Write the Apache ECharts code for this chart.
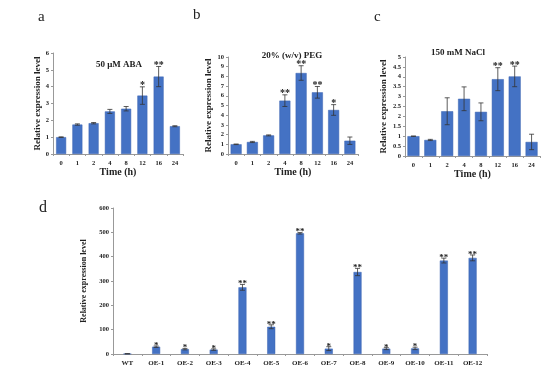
<!DOCTYPE html>
<html><head><meta charset="utf-8">
<script src="https://cdn.jsdelivr.net/npm/echarts@6/dist/echarts.min.js"></script>
<style>html,body{margin:0;padding:0;background:#fff}#c{width:550px;height:373px}</style>
</head><body><div id="c"></div>
<script>
// ---- data ----
const timeCats = ['0','1','2','4','8','12','16','24'];
const abaVals = [1.0, 1.75, 1.83, 2.53, 2.69, 3.47, 4.6, 1.65];
const abaErr  = [0.02, 0.04, 0.04, 0.12, 0.13, 0.52, 0.6, 0.03];
const abaSig  = ['', '', '', '', '', '*', '**', ''];
const pegVals = [1.0, 1.24, 1.92, 5.5, 8.35, 6.36, 4.54, 1.37];
const pegErr  = [0.03, 0.06, 0.05, 0.6, 0.75, 0.6, 0.55, 0.38];
const pegSig  = ['', '', '', '**', '**', '**', '*', ''];
const naclVals = [1.0, 0.81, 2.26, 2.89, 2.23, 3.88, 4.02, 0.71];
const naclErr  = [0.01, 0.03, 0.68, 0.6, 0.45, 0.58, 0.52, 0.39];
const naclSig  = ['', '', '', '', '', '**', '**', ''];
const lineCats = ['WT','OE-1','OE-2','OE-3','OE-4','OE-5','OE-6','OE-7','OE-8','OE-9','OE-10','OE-11','OE-12'];
const lineVals = [1, 30, 20, 18, 274, 112, 496, 22, 337, 22, 23, 384, 395];
const lineErr  = [0.5, 3, 3, 3, 12, 8, 3, 8, 15, 4, 5, 10, 12];
const lineSig  = ['', '*', '*', '*', '**', '**', '**', '*', '**', '*', '*', '**', '**'];

const BLUE = '#4472C4';
const FONT = '"Liberation Serif", "Times New Roman", serif';

function errSeries(idx, vals, errs, sigs, fs) {
  return {
    type: 'custom', xAxisIndex: idx, yAxisIndex: idx, z: 5,
    data: vals.map((v, i) => [i, v, errs[i]]),
    renderItem: function (params, api) {
      const i = api.value(0), v = api.value(1), e = api.value(2);
      const sig = sigs[i];
      const top = api.coord([i, v + e]);
      const bot = api.coord([i, v - e]);
      const w = 2.5;
      const children = [
        {type: 'line', shape: {x1: top[0], y1: top[1], x2: bot[0], y2: bot[1]}, style: {stroke: '#333', lineWidth: 0.8}},
        {type: 'line', shape: {x1: top[0]-w, y1: top[1], x2: top[0]+w, y2: top[1]}, style: {stroke: '#333', lineWidth: 0.8}},
        {type: 'line', shape: {x1: bot[0]-w, y1: bot[1], x2: bot[0]+w, y2: bot[1]}, style: {stroke: '#333', lineWidth: 0.8}}
      ];
      if (sig) {
        children.push({type: 'text', style: {text: sig, x: top[0], y: top[1] + 4, textAlign: 'center', textVerticalAlign: 'bottom', fill: '#222', font: 'bold ' + fs + 'px ' + FONT}});
      }
      return {type: 'group', children: children};
    }
  };
}

const grids = [
  {left: 53, top: 53, width: 130, height: 101},
  {left: 228, top: 57, width: 130, height: 97},
  {left: 405, top: 57, width: 135, height: 99},
  {left: 113, top: 208, width: 374, height: 146}
];
const axisLine = {lineStyle: {color: '#999', width: 1}};
const tickLab = {fontFamily: FONT, fontWeight: 'bold', fontSize: 6.5, color: '#222'};

function xAx(i, cats, name, fs) {
  return {type: 'category', gridIndex: i, data: cats, axisLine: axisLine,
    axisTick: {show: true, length: 2, lineStyle: {color: '#999'}},
    axisLabel: Object.assign({}, tickLab, {margin: 6, fontSize: fs || 6.5}),
    name: name, nameLocation: 'middle', nameGap: 13,
    nameTextStyle: {fontFamily: FONT, fontWeight: 'bold', fontSize: 10, color: '#222'}};
}
function yAx(i, max, interval, gap, nfs) {
  return {type: 'value', gridIndex: i, min: 0, max: max, interval: interval,
    axisLine: Object.assign({show: true}, axisLine),
    axisTick: {show: true, length: 2, lineStyle: {color: '#999'}},
    splitLine: {show: false},
    axisLabel: Object.assign({margin: 4}, tickLab),
    name: 'Relative expression level', nameLocation: 'middle', nameGap: gap, nameRotate: 90,
    nameTextStyle: {fontFamily: FONT, fontWeight: 'bold', fontSize: nfs, color: '#222'}};
}
function barSeries(i, vals, bw) {
  return {type: 'bar', xAxisIndex: i, yAxisIndex: i, data: vals, barWidth: bw,
    itemStyle: {color: BLUE, borderColor: '#3a63b0', borderWidth: 0.5}};
}

const option = {
  animation: false,
  backgroundColor: '#fff',
  grid: grids,
  title: [
    {text: 'a', left: 33, top: 5, textStyle: {fontFamily: FONT, fontSize: 15, fontWeight: 'normal', color: '#222'}},
    {text: 'b', left: 188, top: 3, textStyle: {fontFamily: FONT, fontSize: 15, fontWeight: 'normal', color: '#222'}},
    {text: 'c', left: 369, top: 5, textStyle: {fontFamily: FONT, fontSize: 15, fontWeight: 'normal', color: '#222'}},
    {text: 'd', left: 34, top: 195, textStyle: {fontFamily: FONT, fontSize: 16, fontWeight: 'normal', color: '#222'}},
    {text: '50 μM ABA', left: 114, top: 55, textAlign: 'center', textStyle: {fontFamily: FONT, fontSize: 9, fontWeight: 'bold', color: '#222'}},
    {text: '20% (w/v) PEG', left: 287, top: 46, textAlign: 'center', textStyle: {fontFamily: FONT, fontSize: 9, fontWeight: 'bold', color: '#222'}},
    {text: '150 mM NaCl', left: 453, top: 43, textAlign: 'center', textStyle: {fontFamily: FONT, fontSize: 9, fontWeight: 'bold', color: '#222'}}
  ],
  xAxis: [
    xAx(0, timeCats, 'Time (h)'),
    xAx(1, timeCats, 'Time (h)'),
    xAx(2, timeCats, 'Time (h)'),
    xAx(3, lineCats, '', 7)
  ],
  yAxis: [
    yAx(0, 6, 1, 11, 9),
    yAx(1, 10, 1, 12, 9),
    yAx(2, 5, 0.5, 17, 9),
    yAx(3, 600, 100, 19, 8)
  ],
  series: [
    barSeries(0, abaVals, 10), errSeries(0, abaVals, abaErr, abaSig, 10),
    barSeries(1, pegVals, 11), errSeries(1, pegVals, pegErr, pegSig, 10),
    barSeries(2, naclVals, 12), errSeries(2, naclVals, naclErr, naclSig, 10),
    barSeries(3, lineVals, 8), errSeries(3, lineVals, lineErr, lineSig, 9)
  ]
};
const chart = echarts.init(document.getElementById('c'), null, {renderer: 'canvas'});
chart.setOption(option);
</script>
</body></html>
